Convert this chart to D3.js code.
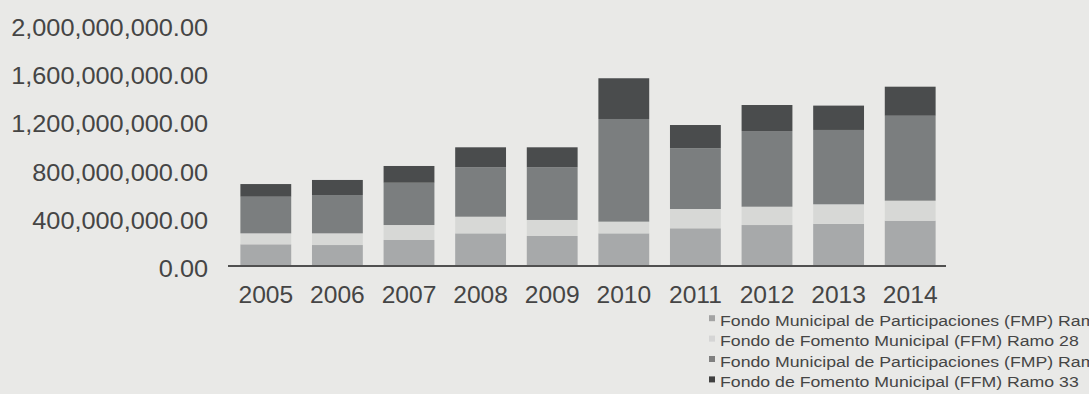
<!DOCTYPE html>
<html>
<head>
<meta charset="utf-8">
<script src="https://cdn.jsdelivr.net/npm/d3@7"></script>
<style>
  html, body { margin: 0; padding: 0; background: #e9e9e7; }
  svg { display: block; }
  text { font-family: "Liberation Sans", Arial, Helvetica, sans-serif; fill: #454545; }
</style>
</head>
<body>
<svg id="chart" width="1089" height="394"></svg>
<script>
// Years on the x axis
const years = ["2005", "2006", "2007", "2008", "2009", "2010", "2011", "2012", "2013", "2014"];

// Series values (pesos), stacked from bottom to top
const fmpRamo28 = [180e6, 174e6, 216e6, 271e6, 249e6, 271e6, 313e6, 340e6, 349e6, 376e6];
const ffmRamo28 = [91e6, 97e6, 124e6, 138e6, 133e6, 97e6, 160e6, 152e6, 163e6, 166e6];
const fmpRamo33 = [304e6, 318e6, 351e6, 410e6, 437e6, 852e6, 504e6, 628e6, 617e6, 705e6];
const ffmRamo33 = [105e6, 125e6, 139e6, 166e6, 166e6, 338e6, 193e6, 216e6, 202e6, 241e6];

// Legend labels, in stacking order
const seriesNames = [
  "Fondo Municipal de Participaciones (FMP) Ramo 28",
  "Fondo de Fomento Municipal (FFM) Ramo 28",
  "Fondo Municipal de Participaciones (FMP) Ramo 33",
  "Fondo de Fomento Municipal (FFM) Ramo 33"
];

// Y axis tick values
const yTicks = [0, 400e6, 800e6, 1200e6, 1600e6, 2000e6];

const barColors = ["#a7a9aa", "#d7d8d6", "#7b7e7f", "#4a4c4d"];
const legendColors = ["#a3a3a3", "#d5d5d5", "#808080", "#404040"];

const svg = d3.select("#chart");

const keys = ["s0", "s1", "s2", "s3"];
const allSeries = [fmpRamo28, ffmRamo28, fmpRamo33, ffmRamo33];
const rows = years.map((y, i) => {
  const r = { year: y };
  keys.forEach((k, j) => { r[k] = allSeries[j][i]; });
  return r;
});
const stacked = d3.stack().keys(keys)(rows);

const x = d3.scaleBand()
  .domain(years)
  .range([230, 946])
  .paddingInner(0.29)
  .paddingOuter(0.145);

const y = d3.scaleLinear()
  .domain([0, 2000e6])
  .range([266, 25]);

// Stacked bars
svg.append("g")
  .selectAll("g")
  .data(stacked)
  .join("g")
    .attr("fill", (d, i) => barColors[i])
  .selectAll("rect")
  .data(d => d)
  .join("rect")
    .attr("x", d => x(d.data.year))
    .attr("width", x.bandwidth())
    .attr("y", d => y(d[1]))
    .attr("height", d => y(d[0]) - y(d[1]));

// Y axis labels (no axis line)
const fmt = d3.format(",.2f");
const yAxis = svg.append("g").attr("transform", "translate(208,0)")
  .call(d3.axisLeft(y).tickValues(yTicks).tickFormat(fmt).tickSize(0).tickPadding(0));
yAxis.select(".domain").remove();
yAxis.selectAll("text")
  .attr("font-size", 23)
  .attr("fill", "#454545")
  .attr("dy", null)
  .attr("x", 0)
  .attr("y", 0)
  .attr("transform", "translate(0,10.5) scale(1.1,1)");

// X axis baseline and year labels
const xAxis = svg.append("g").attr("transform", "translate(0,266)")
  .call(d3.axisBottom(x).tickSize(0).tickPadding(0));
xAxis.select(".domain")
  .attr("stroke", "#505050")
  .attr("stroke-width", 2)
  .attr("d", "M228,0H946");
xAxis.selectAll(".tick text")
  .attr("font-size", 23)
  .attr("fill", "#454545")
  .attr("dy", null)
  .attr("y", 0)
  .attr("transform", "translate(0,37) scale(1.07,1)");

// Legend
const legend = svg.append("g").attr("transform", "translate(709,325.7)");
const item = legend.selectAll("g")
  .data(seriesNames)
  .join("g")
    .attr("transform", (d, i) => `translate(0,${i * 20.4})`);
item.append("rect")
  .attr("x", 0).attr("y", -10.5)
  .attr("width", 6).attr("height", 6)
  .attr("fill", (d, i) => legendColors[i]);
item.append("text")
  .attr("transform", "translate(11,0) scale(1.18,1)")
  .attr("font-size", 15)
  .attr("fill", "#454545")
  .text(d => d);
</script>
</body>
</html>
